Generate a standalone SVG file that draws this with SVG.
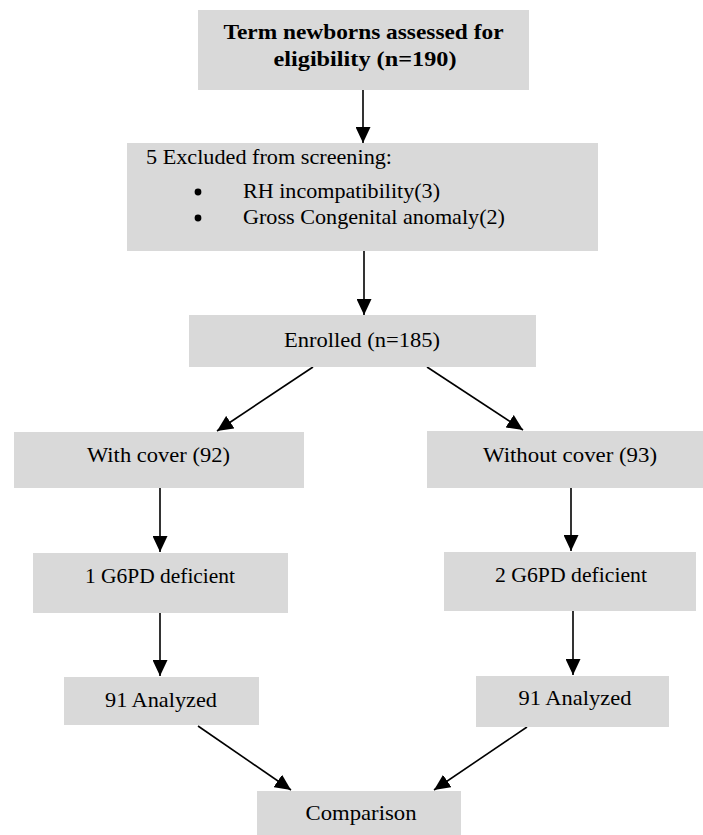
<svg xmlns="http://www.w3.org/2000/svg" width="703" height="835" viewBox="0 0 703 835">
<style>
.box{fill:#d9d9d9;}
.t{font-family:"Liberation Serif","Times New Roman",serif;font-size:21px;fill:#000;}
.c{text-anchor:middle;}
.b{font-weight:bold;}
.ln{stroke:#000;stroke-width:1.6;fill:none;marker-end:url(#ah);}
</style>
<defs>
<marker id="ah" markerUnits="userSpaceOnUse" markerWidth="16" markerHeight="15" refX="16" refY="7.5" orient="auto">
<path d="M0,0 L16,7.5 L0,15 z" fill="#000"/>
</marker>
</defs>
<rect width="703" height="835" fill="#fff"/>
<g id="connectors">
<line class="ln" x1="363" y1="90" x2="363" y2="143"/>
<line class="ln" x1="364" y1="251" x2="364" y2="315"/>
<line class="ln" x1="313" y1="367" x2="217" y2="431"/>
<line class="ln" x1="427" y1="367" x2="523" y2="430"/>
<line class="ln" x1="160" y1="488" x2="160" y2="552"/>
<line class="ln" x1="571" y1="488" x2="571" y2="551"/>
<line class="ln" x1="160" y1="613" x2="160" y2="676"/>
<line class="ln" x1="573" y1="611" x2="573" y2="675"/>
<line class="ln" x1="198" y1="726" x2="291" y2="790"/>
<line class="ln" x1="527" y1="727" x2="434" y2="790"/>
</g>
<g id="n1">
<rect class="box" x="198" y="10" width="331" height="80"/>
<text class="t c b" x="363.5" y="39" textLength="280" lengthAdjust="spacingAndGlyphs">Term newborns assessed for</text>
<text class="t c b" x="365" y="66" textLength="183" lengthAdjust="spacingAndGlyphs">eligibility (n=190)</text>
</g>
<g id="n2">
<rect class="box" x="127" y="143" width="471" height="108"/>
<text class="t" x="146" y="164" textLength="246" lengthAdjust="spacingAndGlyphs">5 Excluded from screening:</text>
<circle cx="198" cy="192" r="3.4" fill="#000"/>
<text class="t" x="243" y="198" textLength="197" lengthAdjust="spacingAndGlyphs">RH incompatibility(3)</text>
<circle cx="198" cy="218" r="3.4" fill="#000"/>
<text class="t" x="243" y="224" textLength="262" lengthAdjust="spacingAndGlyphs">Gross Congenital anomaly(2)</text>
</g>
<g id="n3">
<rect class="box" x="189" y="315" width="347" height="52"/>
<text class="t c" x="362" y="347" textLength="156" lengthAdjust="spacingAndGlyphs">Enrolled (n=185)</text>
</g>
<g id="n4">
<rect class="box" x="14" y="432" width="290" height="56"/>
<text class="t c" x="158.5" y="462" textLength="143" lengthAdjust="spacingAndGlyphs">With cover (92)</text>
</g>
<g id="n5">
<rect class="box" x="427" y="431" width="276" height="57"/>
<text class="t c" x="570" y="462" textLength="174" lengthAdjust="spacingAndGlyphs">Without cover (93)</text>
</g>
<g id="n6">
<rect class="box" x="33" y="553" width="255" height="60"/>
<text class="t c" x="160" y="583" textLength="150" lengthAdjust="spacingAndGlyphs">1 G6PD deficient</text>
</g>
<g id="n7">
<rect class="box" x="444" y="552" width="252" height="59"/>
<text class="t c" x="571" y="582" textLength="152" lengthAdjust="spacingAndGlyphs">2 G6PD deficient</text>
</g>
<g id="n8">
<rect class="box" x="64" y="677" width="195" height="48"/>
<text class="t c" x="161" y="707" textLength="112" lengthAdjust="spacingAndGlyphs">91 Analyzed</text>
</g>
<g id="n9">
<rect class="box" x="476" y="676" width="193" height="51"/>
<text class="t c" x="575" y="705" textLength="113" lengthAdjust="spacingAndGlyphs">91 Analyzed</text>
</g>
<g id="n10">
<rect class="box" x="257" y="791" width="204" height="44"/>
<text class="t c" x="361" y="820" textLength="111" lengthAdjust="spacingAndGlyphs">Comparison</text>
</g>
</svg>
